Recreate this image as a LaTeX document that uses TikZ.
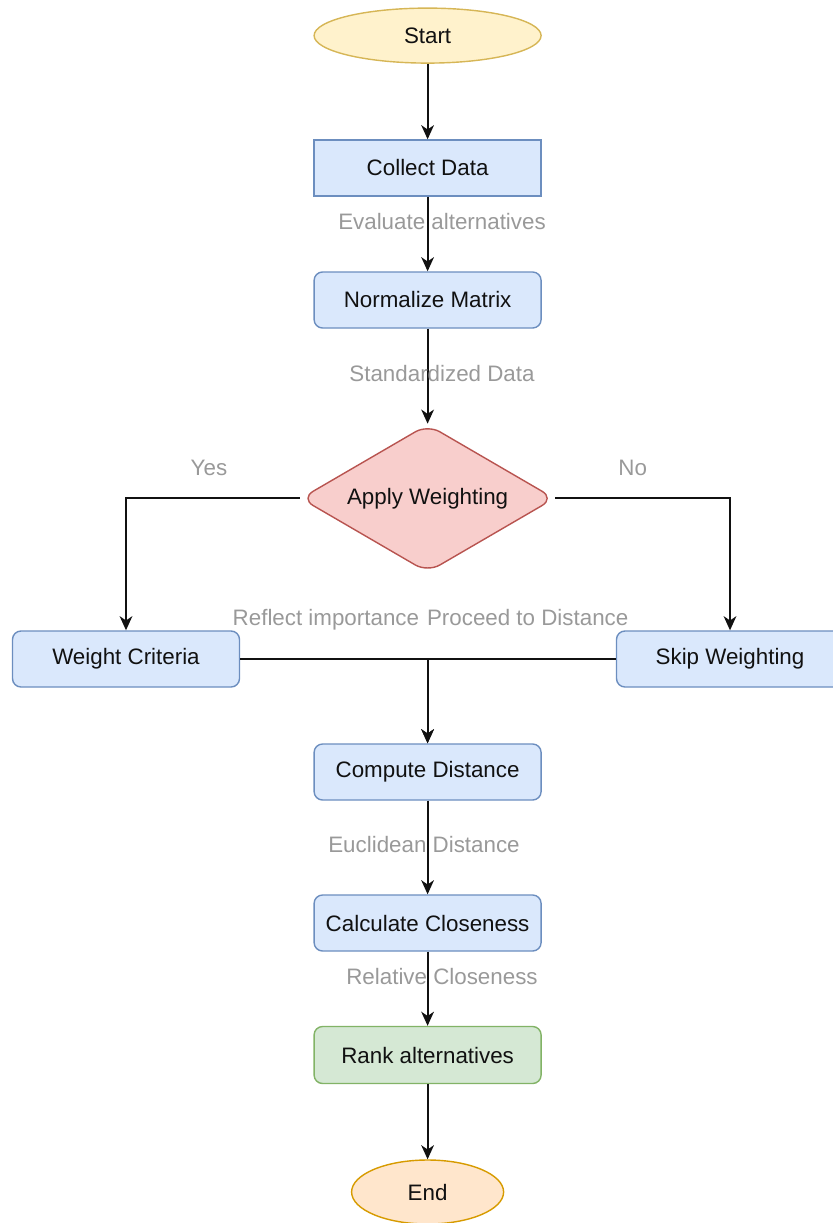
\documentclass[tikz,border=0pt]{standalone}
\usepackage{fontspec}
\setmainfont{Liberation Sans}
\usepackage{tikz}
\usetikzlibrary{shapes.geometric,arrows.meta}
\definecolor{blueline}{HTML}{6C8EBF}
\definecolor{bluefill}{HTML}{DAE8FC}
\definecolor{redline}{HTML}{B85450}
\definecolor{redfill}{HTML}{F8CECC}
\definecolor{greenline}{HTML}{82B366}
\definecolor{greenfill}{HTML}{D5E8D4}
\definecolor{yellowline}{HTML}{D6B656}
\definecolor{yellowfill}{HTML}{FFF2CC}
\definecolor{orangeline}{HTML}{D79B00}
\definecolor{orangefill}{HTML}{FFE6CC}
\definecolor{labelgray}{HTML}{999999}
\definecolor{textdark}{HTML}{111111}
\tikzstyle{arrow} = [->,>={Stealth[length=10pt,width=9pt,inset=3pt]},line width=1.4pt,draw=textdark]
\tikzstyle{stepbox} = [draw=blueline,fill=bluefill,line width=1pt,rounded corners=6pt,minimum width=5.675cm,minimum height=1.4cm,font=\fontsize{15.9}{19}\selectfont,text=textdark]
\tikzstyle{term} = [ellipse,line width=1pt,font=\fontsize{15.9}{19}\selectfont,text=textdark,inner sep=0pt]
\tikzstyle{lbl} = [font=\fontsize{15.9}{19}\selectfont,text=labelgray,inner sep=0pt,text height=11.5pt,text depth=3.5pt]

\begin{document}
\begin{tikzpicture}
          \useasboundingbox (0,0) rectangle (20.8,-30.575);
          \node[term, draw=yellowline, fill=yellowfill, minimum width=5.675cm, minimum height=1.375cm] at (10.69,-0.89) (start) {Start};
          \node[stepbox, sharp corners] at (10.69,-4.2) (collect) {Collect Data};
          \node[stepbox] at (10.69,-7.5) (normalize) {Normalize Matrix};
          \node[diamond, aspect=1.71, draw=redline, fill=redfill, line width=1pt, rounded corners=10pt, inner sep=0pt, minimum width=6.35cm, minimum height=3.7cm, font=\fontsize{15.9}{19}\selectfont, text=textdark] at (10.69,-12.46) (weighting) {Apply Weighting};
          \node[stepbox] at (3.15,-16.475) (criteria) {Weight Criteria};
          \node[stepbox] at (18.25,-16.475) (skip) {Skip Weighting};
          \node[stepbox] at (10.69,-19.3) (distance) {Compute Distance};
          \node[stepbox] at (10.69,-23.075) (closeness) {Calculate Closeness};
          \node[stepbox, draw=greenline, fill=greenfill, minimum height=1.425cm] at (10.69,-26.375) (rank) {Rank alternatives};
          \node[term, draw=orangeline, fill=orangefill, minimum width=3.8cm, minimum height=1.6cm] at (10.69,-29.8) (end) {End};

          \draw[arrow] (start) -- (collect);
          \draw[arrow] (collect) -- (normalize) node[lbl, pos=0.36, xshift=0.36cm]{Evaluate alternatives};
          \draw[arrow] (normalize) -- (weighting) node[lbl, pos=0.5, xshift=0.36cm]{Standardized Data};
          \draw[arrow] (weighting.west) -| (criteria.north) node[lbl, pos=0.25, yshift=0.72cm, xshift=-0.1cm]{Yes};
          \draw[arrow] (weighting.east) -| (skip.north) node[lbl, pos=0.25, yshift=0.72cm, xshift=-0.25cm]{No};
          \draw[arrow] (criteria.east) -| (distance.north) node[lbl, pos=0.25, yshift=0.975cm, xshift=-0.2cm]{Reflect importance};
          \draw[arrow] (skip.west) -| (distance.north) node[lbl, pos=0.25, yshift=0.975cm, xshift=0.15cm]{Proceed to Distance};
          \draw[arrow] (distance) -- (closeness) node[lbl, pos=0.49, xshift=-0.09cm]{Euclidean Distance};
          \draw[arrow] (closeness) -- (rank) node[lbl, pos=0.37, xshift=0.36cm]{Relative Closeness};
          \draw[arrow] (rank) -- (end);
        \end{tikzpicture}
\end{document}
